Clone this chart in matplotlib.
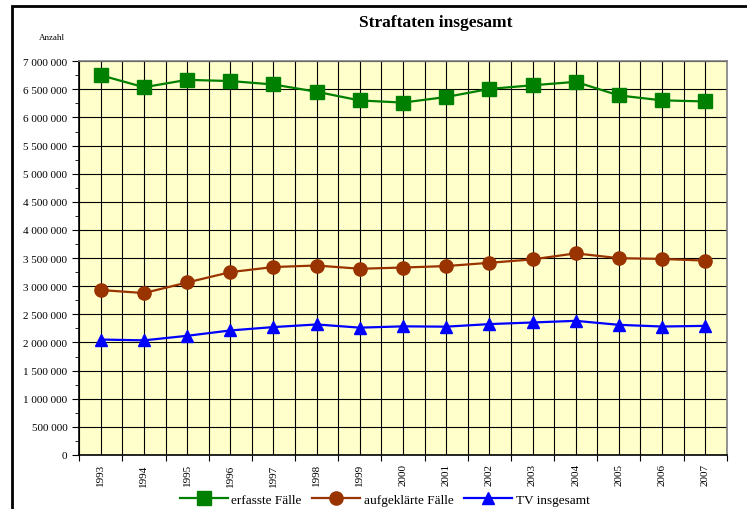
import matplotlib
matplotlib.use("Agg")
import matplotlib.pyplot as plt
from matplotlib.ticker import FuncFormatter, MultipleLocator, FixedLocator
from matplotlib.patches import Rectangle

plt.rcParams['font.family'] = ['Liberation Serif', 'DejaVu Serif']

jahre = ['1993', '1994', '1995', '1996', '1997', '1998', '1999', '2000',
         '2001', '2002', '2003', '2004', '2005', '2006', '2007']
erfasst = [6750613, 6537748, 6668717, 6647598, 6586165, 6456996, 6302316, 6264723,
           6363865, 6507394, 6572135, 6633156, 6391715, 6304223, 6284661]
aufgeklaert = [2932000, 2878000, 3066000, 3250000, 3341000, 3368000, 3310000, 3332000,
               3358000, 3416000, 3477000, 3584000, 3498000, 3485000, 3455000]
tv = [2051775, 2037170, 2118104, 2213293, 2273327, 2319895, 2263140, 2286372,
      2280611, 2326149, 2355161, 2384268, 2313136, 2283127, 2294883]

fig = plt.figure(figsize=(7.47, 5.10), dpi=100)
ax = fig.add_axes([0.106, 0.106, 0.867, 0.772])
ax.set_facecolor('#FFFFCC')

x = list(range(len(jahre)))
ax.plot(x, erfasst, color='#008000', lw=1.6, marker='s', ms=9.5, label='erfasste Fälle', zorder=3)
ax.plot(x, aufgeklaert, color='#993300', lw=1.6, marker='o', ms=9.5, label='aufgeklärte Fälle', zorder=3)
ax.plot(x, tv, color='#0000FF', lw=1.6, marker='^', ms=8.5, label='TV insgesamt', zorder=3)

ax.set_xlim(-0.5, len(jahre) - 0.5)
ax.set_ylim(0, 7000000)

# x: Striche an den Grenzen, Beschriftung in der Mitte
ax.xaxis.set_major_locator(FixedLocator([i - 0.5 for i in range(len(jahre) + 1)]))
ax.xaxis.set_minor_locator(FixedLocator(x))
ax.set_xticklabels([])
ax.set_xticklabels(jahre, minor=True, rotation=90, fontsize=8)
ax.tick_params(axis='x', which='major', length=4, direction='out', color='black')
ax.tick_params(axis='x', which='minor', length=0, pad=6)

ax.yaxis.set_major_locator(MultipleLocator(500000))
ax.yaxis.set_minor_locator(MultipleLocator(250000))
ax.yaxis.set_major_formatter(FuncFormatter(lambda v, p: f"{int(v):,}".replace(',', ' ')))
ax.tick_params(axis='y', which='major', length=5, labelsize=8)
ax.tick_params(axis='y', which='minor', length=3)

ax.grid(True, axis='x', which='both', color='black', lw=0.8, zorder=1)
ax.grid(True, axis='y', which='major', color='black', lw=0.8, zorder=1)
ax.set_axisbelow(True)

for s in ['top', 'right']:
    ax.spines[s].set_color('#808080')
    ax.spines[s].set_linewidth(1.2)
ax.spines['left'].set_linewidth(1.2)
ax.spines['bottom'].set_linewidth(1.2)

fig.text(0.584, 0.955, 'Straftaten insgesamt', ha='center', va='center',
         fontsize=12.5, fontweight='bold')
fig.text(0.052, 0.925, 'Anzahl', ha='left', va='center', fontsize=6.5)

ax.legend(loc='center', bbox_to_anchor=(0.515, 0.018), bbox_transform=fig.transFigure,
          ncol=3, frameon=False, fontsize=9.5, handlelength=3.6, columnspacing=0.8,
          handletextpad=0.3)

# Rahmen um das Diagramm
fig.patches.append(Rectangle((12 / 747, -0.05), 1.2, 1 - 7 / 510 + 0.05,
                             transform=fig.transFigure, fill=False,
                             edgecolor='black', lw=2))

fig.savefig('out.png', dpi=100)
